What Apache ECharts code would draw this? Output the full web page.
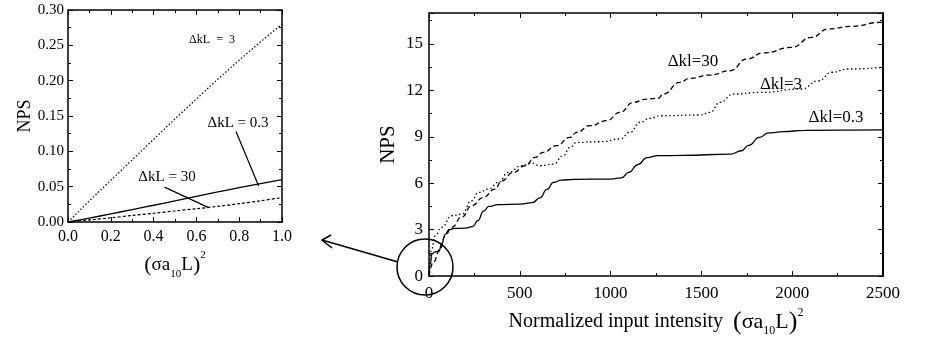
<!DOCTYPE html>
<html>
<head>
<meta charset="utf-8">
<script src="https://cdn.jsdelivr.net/npm/echarts@6/dist/echarts.min.js"></script>
<style>
  html, body { margin: 0; padding: 0; background: #fff; }
  #chart { width: 935px; height: 342px; }
</style>
</head>
<body>
<div id="chart"></div>
<script>
// left panel: small-intensity zoom
var leftX = [0, 0.1, 0.2, 0.3, 0.4, 0.5, 0.6, 0.7, 0.8, 0.9, 1.0]
var leftDk3 = [0, 0.030, 0.059, 0.088, 0.117, 0.146, 0.174, 0.202, 0.229, 0.255, 0.280]
var leftDk03 = [0, 0.0055, 0.0115, 0.0175, 0.0237, 0.030, 0.0363, 0.0425, 0.0485, 0.0543, 0.060]
var leftDk30 = [0, 0.003, 0.006, 0.0092, 0.0124, 0.0156, 0.0188, 0.0221, 0.0259, 0.030, 0.0345]

// right panel: full range, [intensity, NPS]
var rightDk03 = [[0, 0], [8, 0.8], [15, 1.4], [30, 1.55], [55, 1.6], [70, 2.1], [90, 2.7], [110, 3.0], [140, 3.08],
  [200, 3.1], [240, 3.2], [270, 3.6], [300, 4.2], [330, 4.5], [380, 4.62], [500, 4.65], [570, 4.75], [610, 5.05],
  [650, 5.6], [685, 6.05], [730, 6.2], [800, 6.25], [1000, 6.27], [1060, 6.35], [1100, 6.7], [1150, 7.2],
  [1200, 7.65], [1260, 7.78], [1400, 7.8], [1660, 7.88], [1720, 8.1], [1760, 8.45], [1820, 8.97], [1870, 9.25],
  [1950, 9.33], [2070, 9.42], [2500, 9.45]]
var rightDk30 = [[0, 0], [24, 0.9], [61, 1.75], [88, 2.6], [125, 3.15], [180, 3.8], [235, 4.55], [299, 5.08],
  [363, 5.62], [400, 6.16], [464, 6.7], [529, 7.13], [584, 7.67], [629, 8.0], [703, 8.43], [776, 8.97],
  [813, 9.29], [887, 9.72], [979, 10.04], [1052, 10.58], [1125, 11.23], [1199, 11.44], [1263, 11.49],
  [1290, 11.76], [1382, 12.52], [1437, 12.78], [1547, 12.99], [1658, 13.27], [1750, 14.03], [1841, 14.42],
  [1997, 14.78], [2107, 15.43], [2199, 15.97], [2328, 16.14], [2484, 16.39], [2500, 16.4]]
var rightDk3 = [[0, 0], [15, 1.75], [33, 2.6], [70, 3.15], [125, 3.9], [180, 4.0], [235, 4.87], [272, 5.41],
  [327, 5.62], [382, 6.06], [437, 6.7], [510, 7.13], [566, 7.3], [611, 7.13], [685, 7.24], [740, 7.78],
  [776, 8.32], [813, 8.64], [942, 8.68], [1052, 8.86], [1107, 9.29], [1162, 9.94], [1217, 10.19],
  [1272, 10.36], [1492, 10.41], [1547, 10.58], [1603, 11.23], [1676, 11.76], [1823, 11.87], [2052, 12.09],
  [2144, 12.62], [2218, 13.17], [2309, 13.38], [2500, 13.5]]

// leader lines in the left panel (data coords)
var leader03 = [[0.785, 0.128], [0.891, 0.0508]]
var leader30 = [[0.451, 0.0494], [0.657, 0.0203]]

var serif = 'Liberation Serif'

function frameAxis (opt) {
  return Object.assign({
    type: 'value',
    axisLine: { show: true, onZero: false, lineStyle: { color: '#000', width: 1.5 } },
    axisTick: { show: true, inside: true, length: 5, lineStyle: { color: '#000' } },
    minorTick: { show: true, splitNumber: 2, length: 3, lineStyle: { color: '#000' } },
    splitLine: { show: false },
    axisLabel: { show: false },
    nameTextStyle: { fontFamily: serif, color: '#000' }
  }, opt)
}

function lbl (size, margin, fmt) {
  return { show: true, fontFamily: serif, fontSize: size, color: '#000', margin: margin, formatter: fmt || function (v) { return String(v) } }
}

var titleRich = function (big, mid, small) {
  return {
    p: { fontSize: big, fontFamily: serif, color: '#000', lineHeight: 30 },
    t: { fontSize: mid, fontFamily: serif, color: '#000', lineHeight: 30 },
    sub: { fontSize: small, fontFamily: serif, color: '#000', verticalAlign: 'bottom', lineHeight: 18 },
    sup: { fontSize: small, fontFamily: serif, color: '#000', verticalAlign: 'top', lineHeight: 16 }
  }
}

var chart = echarts.init(document.getElementById('chart'))

var option = {
  animation: false,
  backgroundColor: '#fff',
  grid: [
    { left: 68, top: 10, width: 214, height: 212 },
    { left: 429, top: 13, width: 454, height: 264 }
  ],
  xAxis: [
    frameAxis({
      gridIndex: 0, position: 'bottom', min: 0, max: 1, interval: 0.2,
      axisLabel: lbl(16, 7, function (v) { return v.toFixed(1) }),
      name: '{p|(}{t|σa}{sub|10}{t|L}{p|)}{sup|2}', nameLocation: 'middle', nameGap: 28,
      nameTextStyle: { rich: titleRich(22, 19, 11) }
    }),
    frameAxis({ gridIndex: 0, position: 'top', min: 0, max: 1, interval: 0.2 }),
    frameAxis({
      gridIndex: 1, position: 'bottom', min: 0, max: 2500, interval: 500,
      axisLabel: lbl(17, 9),
      name: 'Normalized input intensity  {p|(}{t|σa}{sub|10}{t|L}{p|)}{sup|2}', nameLocation: 'middle', nameGap: 30,
      nameTextStyle: { fontFamily: serif, fontSize: 20, color: '#000', rich: titleRich(26, 22, 12) }
    }),
    frameAxis({ gridIndex: 1, position: 'top', min: 0, max: 2500, interval: 500 })
  ],
  yAxis: [
    frameAxis({
      gridIndex: 0, position: 'left', min: 0, max: 0.3, interval: 0.05,
      axisLabel: lbl(15, 4, function (v) { return v.toFixed(2) }),
      name: 'NPS', nameLocation: 'middle', nameGap: 33, nameRotate: 90,
      nameTextStyle: { fontFamily: serif, fontSize: 18, color: '#000' }
    }),
    frameAxis({ gridIndex: 0, position: 'right', min: 0, max: 0.3, interval: 0.05 }),
    frameAxis({
      gridIndex: 1, position: 'left', min: 0, max: 17, interval: 3,
      axisLabel: Object.assign(lbl(17, 6), { showMaxLabel: false }),
      name: 'NPS', nameLocation: 'middle', nameGap: 30, nameRotate: 90,
      nameTextStyle: { fontFamily: serif, fontSize: 21, color: '#000' }
    }),
    frameAxis({ gridIndex: 1, position: 'right', min: 0, max: 17, interval: 3,
      axisLine: { show: true, onZero: false, lineStyle: { color: '#000', width: 2 } } })
  ],
  series: [
    {
      type: 'line', xAxisIndex: 0, yAxisIndex: 0, showSymbol: false,
      data: leftX.map(function (x, i) { return [x, leftDk3[i]] }),
      lineStyle: { color: '#000', width: 1.2, type: [1.5, 2] }
    },
    {
      type: 'line', xAxisIndex: 0, yAxisIndex: 0, showSymbol: false, smooth: 0.3,
      data: leftX.map(function (x, i) { return [x, leftDk03[i]] }),
      lineStyle: { color: '#000', width: 1.3 },
      markLine: {
        silent: true, symbol: ['none', 'none'], label: { show: false },
        lineStyle: { color: '#000', width: 1.2, type: 'solid' },
        data: [
          [{ coord: leader03[0] }, { coord: leader03[1] }],
          [{ coord: leader30[0] }, { coord: leader30[1] }]
        ]
      }
    },
    {
      type: 'line', xAxisIndex: 0, yAxisIndex: 0, showSymbol: false, smooth: 0.3,
      data: leftX.map(function (x, i) { return [x, leftDk30[i]] }),
      lineStyle: { color: '#000', width: 1.2, type: [3, 2] }
    },
    {
      type: 'line', xAxisIndex: 2, yAxisIndex: 2, showSymbol: false, smooth: 0.5, smoothMonotone: 'x',
      data: rightDk03,
      lineStyle: { color: '#000', width: 1.3 }
    },
    {
      type: 'line', xAxisIndex: 2, yAxisIndex: 2, showSymbol: false, smooth: 0.5, smoothMonotone: 'x',
      data: rightDk30,
      lineStyle: { color: '#000', width: 1.3, type: [5, 3] }
    },
    {
      type: 'line', xAxisIndex: 2, yAxisIndex: 2, showSymbol: false, smooth: 0.5, smoothMonotone: 'x',
      data: rightDk3,
      lineStyle: { color: '#000', width: 1.3, type: [1.5, 2.5] }
    }
  ],
  graphic: [
    { type: 'text', x: 212, y: 40, style: { text: 'ΔkL  =  3', font: '12px ' + serif, fill: '#000', align: 'center', verticalAlign: 'middle' } },
    { type: 'text', x: 238, y: 123, style: { text: 'ΔkL = 0.3', font: '15px ' + serif, fill: '#000', align: 'center', verticalAlign: 'middle' } },
    { type: 'text', x: 167, y: 177, style: { text: 'ΔkL = 30', font: '15px ' + serif, fill: '#000', align: 'center', verticalAlign: 'middle' } },
    { type: 'text', x: 693, y: 62, style: { text: 'Δkl=30', font: '17px ' + serif, fill: '#000', align: 'center', verticalAlign: 'middle' } },
    { type: 'text', x: 781, y: 85, style: { text: 'Δkl=3', font: '17px ' + serif, fill: '#000', align: 'center', verticalAlign: 'middle' } },
    { type: 'text', x: 836, y: 118, style: { text: 'Δkl=0.3', font: '17px ' + serif, fill: '#000', align: 'center', verticalAlign: 'middle' } },
    { type: 'circle', shape: { cx: 425, cy: 267, r: 28 }, style: { fill: 'none', stroke: '#000', lineWidth: 1.5 }, z: 100 },
    { type: 'polyline', shape: { points: [[398, 262], [322, 240]] }, style: { stroke: '#000', lineWidth: 1.5, fill: 'none' }, z: 100 },
    { type: 'polyline', shape: { points: [[331, 235], [322, 240], [332, 248]] }, style: { stroke: '#000', lineWidth: 1.5, fill: 'none' }, z: 100 }
  ]
}

chart.setOption(option)
</script>
</body>
</html>
